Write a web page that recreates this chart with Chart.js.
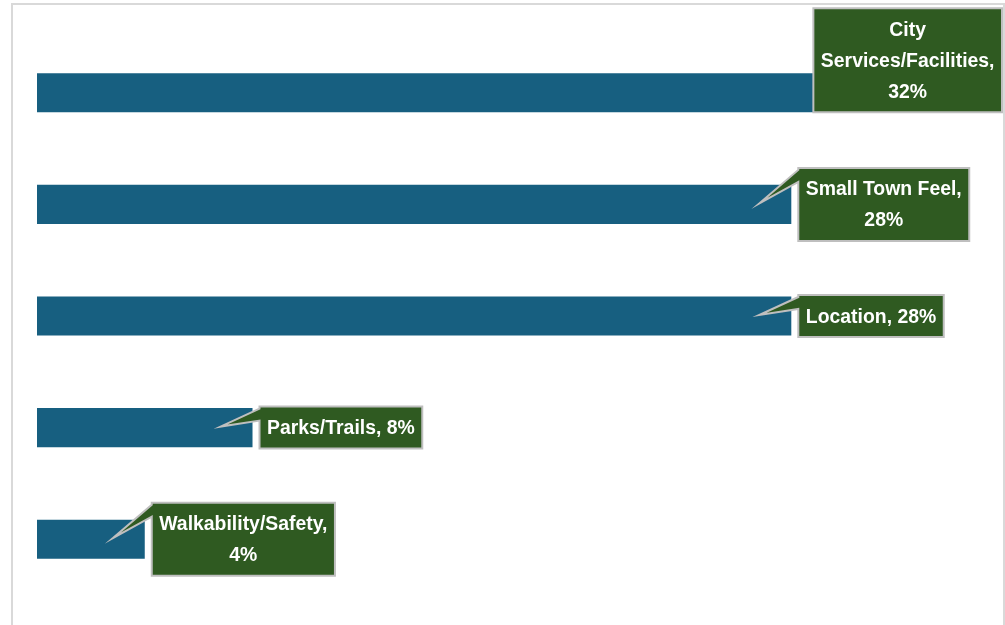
<!DOCTYPE html>
<html>
<head>
<meta charset="utf-8">
<script src="https://cdn.jsdelivr.net/npm/chart.js@4.4.1/dist/chart.umd.min.js"></script>
<style>
  html, body { margin: 0; padding: 0; background: #fff; }
  #wrap { position: relative; width: 1005px; height: 625px; overflow: hidden; }
  #frame { position: absolute; left: 11px; top: 3px; width: 994px; height: 700px;
           box-sizing: border-box; border: 2px solid #d9d9d9; border-bottom: none; }
  canvas { position: absolute; left: 0; top: 0; }
</style>
</head>
<body>
<div id="wrap">
  <div id="frame"></div>
  <canvas id="chart" width="1005" height="625"></canvas>
</div>
<script>
// ── Co ludzie cenią w mieście: odsetek odpowiedzi ─────────────────────────────
const categories = ['City Services/Facilities', 'Small Town Feel', 'Location', 'Parks/Trails', 'Walkability/Safety'];
const shares     = [32, 28, 28, 8, 4];

const BAR_COLOR   = '#175f80';
const BOX_FILL    = '#2f5a21';
const BOX_BORDER  = '#bfbfbf';
const LABEL_FONT  = "bold 20px 'Liberation Sans', Arial, sans-serif";
const NARROW      = 0.97;   // ściśnięcie poziome (zamiast fontu "Narrow")
const WRAP_WIDTH  = 184;

const textW = (ctx, t) => ctx.measureText(t).width * NARROW;

// Zawijanie słów jak w etykiecie Excela
function wrap(ctx, text, maxW) {
  const words = text.split(' ');
  const lines = [];
  let cur = '';
  words.forEach(w => {
    const t = cur ? cur + ' ' + w : w;
    if (cur && textW(ctx, t) > maxW) { lines.push(cur); cur = w; }
    else cur = t;
  });
  if (cur) lines.push(cur);
  return lines;
}

// Dymki z etykietą (kategoria, wartość) przy końcu każdego słupka
const calloutPlugin = {
  id: 'callouts',
  afterDatasetsDraw(chart) {
    const ctx = chart.ctx;
    const meta = chart.getDatasetMeta(0);
    ctx.save();
    ctx.font = LABEL_FONT;
    meta.data.forEach((bar, i) => {
      const lines = wrap(ctx, categories[i] + ', ' + shares[i] + '%', WRAP_WIDTH);
      const maxW = Math.max(...lines.map(l => textW(ctx, l)));
      const lh = 31, padX = 7.5, padY = 5.5;
      const w = maxW + padX * 2;
      const h = lines.length * lh + padY * 2;
      const end = bar.x, cy = bar.y, half = bar.height / 2;

      let left = end + 7, top = cy - h / 2, pointer = true;
      if (left + w > chart.width - 3) {
        left = chart.width - 3 - w;
        top = cy + half - h;
        pointer = false;
      }
      const right = left + w, bottom = top + h;

      ctx.beginPath();
      ctx.moveTo(left, top);
      ctx.lineTo(right, top);
      ctx.lineTo(right, bottom);
      ctx.lineTo(left, bottom);
      if (pointer) {
        ctx.lineTo(left, top + 14);
        ctx.lineTo(end - 32, cy - 1);
        ctx.lineTo(left, top + 2);
      }
      ctx.closePath();
      ctx.fillStyle = BOX_FILL;
      ctx.fill();
      ctx.lineWidth = 2;
      ctx.strokeStyle = BOX_BORDER;
      ctx.stroke();

      ctx.fillStyle = '#ffffff';
      ctx.textAlign = 'center';
      ctx.textBaseline = 'middle';
      lines.forEach((l, k) => {
        ctx.save();
        ctx.translate(left + w / 2, top + padY + lh * k + lh / 2 + 1);
        ctx.scale(NARROW, 1);
        ctx.fillText(l, 0, 0);
        ctx.restore();
      });
    });
    ctx.restore();
  }
};

new Chart(document.getElementById('chart'), {
  type: 'bar',
  data: {
    labels: categories,
    datasets: [{
      data: shares,
      backgroundColor: BAR_COLOR,
      borderWidth: 0,
      categoryPercentage: 1,
      barPercentage: 0.35,
    }],
  },
  options: {
    indexAxis: 'y',
    responsive: false,
    animation: false,
    layout: { padding: { left: 37, right: 13, top: 37, bottom: 30 } },
    plugins: { legend: { display: false }, tooltip: { enabled: false } },
    scales: {
      x: { display: false, min: 0, max: 35.45 },
      y: { display: false },
    },
  },
  plugins: [calloutPlugin],
});
</script>
</body>
</html>
